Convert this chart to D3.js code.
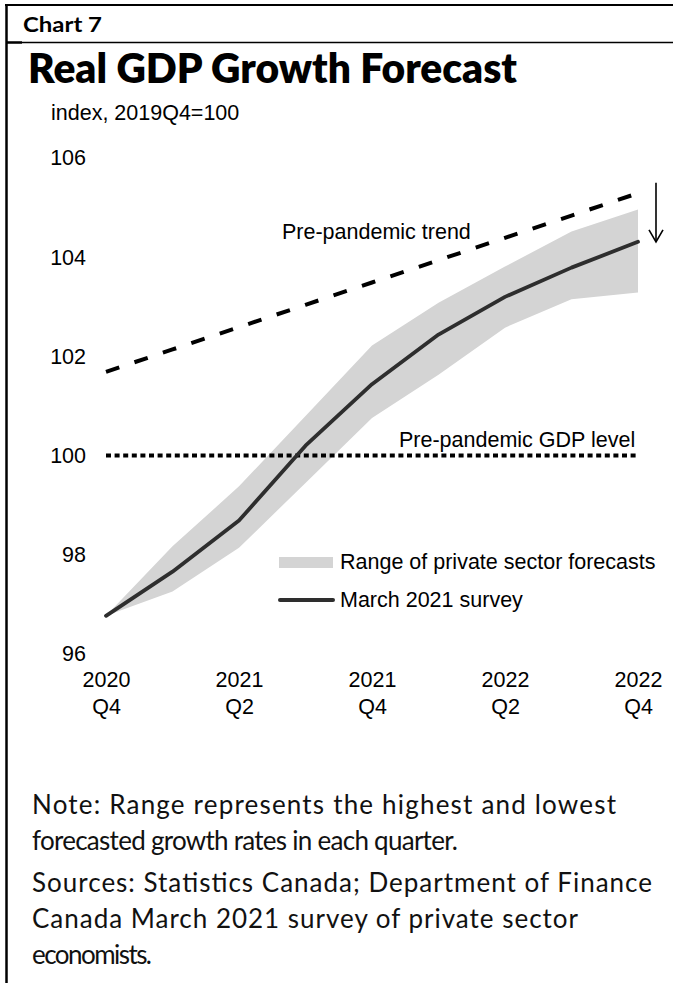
<!DOCTYPE html>
<html>
<head>
<meta charset="utf-8">
<script src="https://cdn.jsdelivr.net/npm/d3@7"></script>
<style>
  html, body { margin: 0; padding: 0; background: #fff; }
  svg { display: block; }
</style>
</head>
<body>
<div id="chart"></div>
<script>
// Quarters on the horizontal axis
const quarters = ["2020Q4", "2021Q1", "2021Q2", "2021Q3", "2021Q4", "2022Q1", "2022Q2", "2022Q3", "2022Q4"];
// March 2021 survey average (index, 2019Q4 = 100)
const surveyValues = [96.77, 97.66, 98.69, 100.2, 101.44, 102.44, 103.2, 103.79, 104.31];
// Highest and lowest private sector forecasts
const rangeHigh = [96.77, 98.17, 99.38, 100.8, 102.22, 103.08, 103.81, 104.52, 104.96];
const rangeLow = [96.77, 97.26, 98.14, 99.45, 100.76, 101.63, 102.58, 103.15, 103.29];
// Pre-pandemic trend path
const trendValues = [101.69, 102.14, 102.59, 103.04, 103.49, 103.94, 104.39, 104.84, 105.29];
// Pre-pandemic GDP level
const preLevel = 100;
// Downward arrow from above the trend end to the survey end
const arrowTop = 105.5;

const yTicks = [96, 98, 100, 102, 104, 106];
const xTickQuarters = ["2020Q4", "2021Q2", "2021Q4", "2022Q2", "2022Q4"];

const noteLines = [
  "Note: Range represents the highest and lowest",
  "forecasted growth rates in each quarter.",
  "Sources: Statistics Canada; Department of Finance",
  "Canada March 2021 survey of private sector",
  "economists."
];

const W = 673, H = 983;
const chartFont = "'Liberation Sans', Arial, sans-serif";
const noteFont = "Lato, 'Open Sans', sans-serif";

const svg = d3.select("#chart").append("svg")
  .attr("width", W).attr("height", H)
  .attr("viewBox", `0 0 ${W} ${H}`);

svg.append("rect").attr("width", W).attr("height", H).attr("fill", "#fff");

// Frame
svg.append("line").attr("x1", 5).attr("x2", W).attr("y1", 5).attr("y2", 5)
  .attr("stroke", "#000").attr("stroke-width", 2);
svg.append("line").attr("x1", 6.5).attr("x2", 6.5).attr("y1", 4).attr("y2", H)
  .attr("stroke", "#000").attr("stroke-width", 2.5);
svg.append("line").attr("x1", 6).attr("x2", W).attr("y1", 42.5).attr("y2", 42.5)
  .attr("stroke", "#000").attr("stroke-width", 1.4);
svg.append("line").attr("x1", 6).attr("x2", 22).attr("y1", 42.5).attr("y2", 42.5)
  .attr("stroke", "#000").attr("stroke-width", 2.4);

// Header texts
svg.append("text").attr("x", 23).attr("y", 32)
  .attr("font-family", noteFont).attr("font-weight", 700).attr("font-size", 21)
  .attr("textLength", 79).attr("lengthAdjust", "spacingAndGlyphs")
  .text("Chart 7");
svg.append("text").attr("x", 28).attr("y", 83)
  .attr("font-family", noteFont).attr("font-weight", 800).attr("font-size", 42)
  .attr("textLength", 489).attr("lengthAdjust", "spacingAndGlyphs")
  .text("Real GDP Growth Forecast");
svg.append("text").attr("x", 51).attr("y", 120)
  .attr("font-family", chartFont).attr("font-size", 21.5)
  .text("index, 2019Q4=100");

// Scales
const x = d3.scalePoint().domain(quarters).range([106, 638]);
const y = d3.scaleLinear().domain([96, 106]).range([654, 158]);

// Y axis (labels only)
const yAxis = svg.append("g")
  .attr("transform", "translate(96,0)")
  .call(d3.axisLeft(y).tickValues(yTicks).tickSize(0).tickPadding(10).tickFormat(d3.format("d")));
yAxis.select(".domain").remove();
yAxis.selectAll("text")
  .attr("font-family", chartFont).attr("font-size", 21.5).attr("fill", "#000");

// X axis (two-line labels)
const xAxis = svg.append("g")
  .attr("transform", `translate(0,${y(96)})`)
  .call(d3.axisBottom(x).tickValues(xTickQuarters).tickSize(0).tickFormat(""));
xAxis.select(".domain").remove();
xAxis.selectAll(".tick text").each(function(d) {
  const t = d3.select(this)
    .attr("y", 0).attr("dy", null)
    .attr("font-family", chartFont).attr("font-size", 21.5).attr("fill", "#000")
    .attr("text-anchor", "middle");
  t.append("tspan").attr("x", 0).attr("y", 33).text(d.slice(0, 4));
  t.append("tspan").attr("x", 0).attr("y", 60).text(d.slice(4));
});

// Range band
const band = d3.area()
  .x((d, i) => x(quarters[i]))
  .y0((d, i) => y(rangeLow[i]))
  .y1((d, i) => y(rangeHigh[i]));
svg.append("path").datum(rangeHigh).attr("d", band).attr("fill", "#d4d4d4");

// Pre-pandemic level (dotted)
svg.append("line")
  .attr("x1", x(quarters[0])).attr("x2", x(quarters[quarters.length - 1]))
  .attr("y1", y(preLevel)).attr("y2", y(preLevel))
  .attr("stroke", "#000").attr("stroke-width", 4)
  .attr("stroke-dasharray", "5,3.6");

// Pre-pandemic trend (dashed)
const line = d3.line().x((d, i) => x(quarters[i])).y(d => y(d));
svg.append("path").datum(trendValues).attr("d", line)
  .attr("fill", "none").attr("stroke", "#000").attr("stroke-width", 4)
  .attr("stroke-dasharray", "14,16");

// Survey line
svg.append("path").datum(surveyValues).attr("d", line)
  .attr("fill", "none").attr("stroke", "#2e2e2e").attr("stroke-width", 3.8)
  .attr("stroke-linejoin", "round").attr("stroke-linecap", "round");

// Arrow
const ax = x(quarters[quarters.length - 1]) + 18;
const ayEnd = y(surveyValues[surveyValues.length - 1]);
svg.append("line").attr("x1", ax).attr("x2", ax)
  .attr("y1", y(arrowTop)).attr("y2", ayEnd)
  .attr("stroke", "#000").attr("stroke-width", 1.6);
svg.append("path")
  .attr("d", `M${ax - 7},${ayEnd - 12}L${ax},${ayEnd}L${ax + 7},${ayEnd - 12}`)
  .attr("fill", "none").attr("stroke", "#000").attr("stroke-width", 1.6);

// Annotations
svg.append("text").attr("x", 282).attr("y", 239)
  .attr("font-family", chartFont).attr("font-size", 21.5)
  .text("Pre-pandemic trend");
svg.append("text").attr("x", 399).attr("y", 447)
  .attr("font-family", chartFont).attr("font-size", 21.5)
  .text("Pre-pandemic GDP level");

// Legend
svg.append("rect").attr("x", 279).attr("y", 557).attr("width", 54).attr("height", 11)
  .attr("fill", "#d4d4d4");
svg.append("text").attr("x", 340).attr("y", 569)
  .attr("font-family", chartFont).attr("font-size", 21.5)
  .text("Range of private sector forecasts");
svg.append("line").attr("x1", 280).attr("x2", 333).attr("y1", 600).attr("y2", 600)
  .attr("stroke", "#2e2e2e").attr("stroke-width", 4).attr("stroke-linecap", "round");
svg.append("text").attr("x", 340).attr("y", 607)
  .attr("font-family", chartFont).attr("font-size", 21.5)
  .text("March 2021 survey");

// Notes, each line fitted to its own width by letter spacing only
const noteY = [814, 850, 892, 928, 964];
const noteW = [584, 426, 620, 546, 120];
svg.selectAll("text.note").data(noteLines).enter().append("text")
  .attr("class", "note")
  .attr("x", 32).attr("y", (d, i) => noteY[i])
  .attr("font-family", noteFont).attr("font-size", 26).attr("fill", "#111")
  .attr("textLength", (d, i) => noteW[i]).attr("lengthAdjust", "spacing")
  .text(d => d);
</script>
</body>
</html>
